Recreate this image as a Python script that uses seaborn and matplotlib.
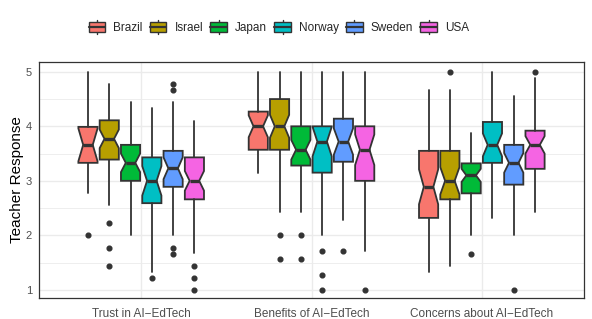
import matplotlib
matplotlib.use("Agg")
import matplotlib.pyplot as plt
import seaborn as sns
from matplotlib.patches import Patch, Rectangle
from matplotlib.lines import Line2D
from matplotlib.legend_handler import HandlerBase

# ---------------- data ----------------
countries = ["Brazil", "Israel", "Japan", "Norway", "Sweden", "USA"]
constructs = ["Trust in AI\u2212EdTech", "Benefits of AI\u2212EdTech", "Concerns about AI\u2212EdTech"]
palette_hex = ["#F8766D", "#B79F00", "#00BA38", "#00BFC4", "#619CFF", "#F564E3"]

# rows: constructs, columns: countries
whislo = [[2.78, 2.55, 2.00, 1.33, 2.00, 1.67],
          [3.15, 2.43, 2.43, 2.00, 2.28, 1.71],
          [1.33, 1.44, 2.00, 2.32, 2.00, 2.43]]
q1 = [[3.33, 3.39, 3.00, 2.59, 2.89, 2.66],
      [3.57, 3.57, 3.28, 3.15, 3.35, 3.00],
      [2.32, 2.66, 2.77, 3.33, 2.93, 3.22]]
med = [[3.66, 3.77, 3.33, 3.00, 3.23, 3.00],
       [4.00, 4.00, 3.57, 3.72, 3.72, 3.57],
       [2.89, 3.00, 3.10, 3.66, 3.33, 3.66]]
q3 = [[3.99, 4.11, 3.66, 3.43, 3.55, 3.43],
      [4.27, 4.50, 4.00, 4.00, 4.14, 4.00],
      [3.55, 3.55, 3.32, 4.08, 3.66, 3.92]]
whishi = [[5.00, 4.77, 4.45, 4.33, 4.45, 4.10],
          [5.00, 5.00, 5.00, 5.00, 5.00, 5.00],
          [4.66, 4.66, 3.88, 5.00, 4.55, 4.88]]
notch_half = [[0.30, 0.17, 0.17, 0.27, 0.20, 0.18],
              [0.20, 0.21, 0.18, 0.27, 0.24, 0.28],
              [0.32, 0.25, 0.12, 0.21, 0.18, 0.16]]
outliers = [[[2.00], [2.22, 1.77, 1.44], [], [1.22], [4.78, 4.66, 1.77, 1.66], [1.44, 1.22, 1.00]],
            [[], [2.00, 1.56], [2.00, 1.56], [1.71, 1.27, 1.00], [1.71], [1.00]],
            [[], [5.00], [1.66], [], [1.00], [5.00]]]
y_ticks = [1, 2, 3, 4, 5]
y_minor = [1.5, 2.5, 3.5, 4.5]

# ---------------- style ----------------
sns.set_theme(style="whitegrid")
plt.rcParams['font.family'] = ['Liberation Sans', 'DejaVu Sans']
palette = sns.color_palette(palette_hex)
EDGE = "#333333"

fig, ax = plt.subplots(figsize=(5.92, 3.19), dpi=100)
fig.subplots_adjust(left=39 / 592, right=584 / 592, top=1 - 62 / 319, bottom=1 - 298 / 319)

slot = 0.75 / len(countries)
bw = slot * 0.9
for g in range(len(constructs)):
    for j in range(len(countries)):
        st = dict(whislo=whislo[g][j], q1=q1[g][j], med=med[g][j], q3=q3[g][j],
                  whishi=whishi[g][j], cilo=med[g][j] - notch_half[g][j],
                  cihi=med[g][j] + notch_half[g][j], fliers=outliers[g][j])
        pos = g + (j - (len(countries) - 1) / 2) * slot
        ax.bxp([st], positions=[pos], widths=[bw], shownotches=True, patch_artist=True,
               showcaps=False, manage_ticks=False, zorder=3,
               boxprops=dict(facecolor=palette[j], edgecolor=EDGE, linewidth=1.3),
               whiskerprops=dict(color=EDGE, linewidth=1.3),
               medianprops=dict(color=EDGE, linewidth=2.4),
               flierprops=dict(marker='o', markerfacecolor=EDGE, markeredgecolor=EDGE,
                               markersize=3.4, linestyle='none'))

ax.set_xlim(-0.6, len(constructs) - 0.4)
ax.set_ylim(0.85, 5.18)
ax.set_xticks(range(len(constructs)))
ax.set_xticklabels(constructs)
ax.set_yticks(y_ticks)
ax.set_yticks(y_minor, minor=True)
ax.grid(which='major', color='#EBEBEB', linewidth=1.0, zorder=0)
ax.grid(which='minor', axis='y', color='#EBEBEB', linewidth=0.6, zorder=0)
ax.set_axisbelow(True)
ax.tick_params(axis='both', which='major', length=3, width=0.8, color=EDGE,
               labelcolor='#4D4D4D', labelsize=8, pad=2)
ax.tick_params(axis='x', which='major', labelsize=8.5, pad=4)
ax.tick_params(axis='both', which='minor', length=0)
for s in ax.spines.values():
    s.set_color(EDGE)
    s.set_linewidth(0.9)
ax.set_xlabel("")
ax.set_ylabel("Teacher Response", fontsize=11, color='black', labelpad=1.5)


# legend with boxplot glyphs
class BoxKey(HandlerBase):
    def create_artists(self, legend, orig_handle, xdescent, ydescent, width, height,
                       fontsize, trans):
        fc = orig_handle.get_facecolor()
        x0, y0 = -xdescent, -ydescent
        bh = height * 0.74
        by = y0 + (height - bh) / 2
        rect = Rectangle((x0, by), width, bh, facecolor=fc, edgecolor=EDGE,
                         linewidth=1.0, transform=trans)
        cx = x0 + width / 2
        w1 = Line2D([cx, cx], [y0, by], color=EDGE, linewidth=1.0, transform=trans)
        w2 = Line2D([cx, cx], [by + bh, y0 + height], color=EDGE, linewidth=1.0, transform=trans)
        m = Line2D([x0, x0 + width], [y0 + height / 2] * 2, color=EDGE, linewidth=1.6,
                   transform=trans)
        return [w1, w2, rect, m]


handles = [Patch(facecolor=palette[j]) for j in range(len(countries))]
fig.legend(handles, countries, loc='center', bbox_to_anchor=(279 / 592, 1 - 27 / 319),
           ncol=len(countries), frameon=False, fontsize=8.5,
           handler_map={Patch: BoxKey()}, handlelength=1.4, handleheight=1.5,
           handletextpad=0.7, columnspacing=0.6, borderpad=0)

fig.savefig("out.png", dpi=100)
